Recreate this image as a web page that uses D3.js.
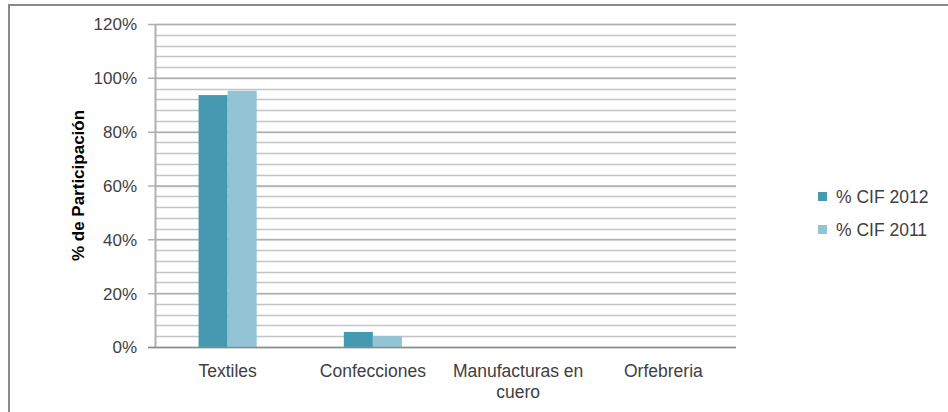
<!DOCTYPE html>
<html>
<head>
<meta charset="utf-8">
<script src="https://cdn.jsdelivr.net/npm/d3@7"></script>
<style>
  html, body { margin: 0; padding: 0; background: #ffffff; }
  svg { display: block; }
  text { font-family: "Liberation Sans", Arial, sans-serif; }
</style>
</head>
<body>
<svg id="chart" width="948" height="412"></svg>
<script>
// ---- data ----
const categories = ["Textiles", "Confecciones", "Manufacturas en cuero", "Orfebreria"];
const seriesNames = ["% CIF 2012", "% CIF 2011"];
const cif2012 = [0.936, 0.056, 0, 0];
const cif2011 = [0.952, 0.041, 0, 0];
const majorTicks = [0, 0.2, 0.4, 0.6, 0.8, 1.0, 1.2];
const minorTicks = d3.range(0, 31).map(i => i * 0.04);
const yTitle = "% de Participación";

// ---- layout ----
const svg = d3.select("#chart");
const plot = { left: 155, right: 736, top: 24, bottom: 347 };
const colors = ["#4599b1", "#93c4d6"];
const seriesValues = [cif2012, cif2011];

// outer border
svg.append("rect")
  .attr("x", 9).attr("y", 5)
  .attr("width", 950).attr("height", 420)
  .attr("fill", "none").attr("stroke", "#8a8a8a").attr("stroke-width", 2);

const y = d3.scaleLinear().domain([0, 1.2]).range([plot.bottom, plot.top]);
const x = d3.scaleBand().domain(categories).range([plot.left, plot.right]).paddingInner(0).paddingOuter(0);
const x1 = d3.scaleBand().domain(seriesNames).range([0, x.bandwidth()]).paddingInner(0).paddingOuter(1.5);

// minor gridlines
svg.append("g").selectAll("line")
  .data(minorTicks.filter(t => t > 0))
  .join("line")
  .attr("x1", plot.left).attr("x2", plot.right)
  .attr("y1", d => Math.round(y(d)) + 0.5).attr("y2", d => Math.round(y(d)) + 0.5)
  .attr("stroke", "#c4c4c4").attr("stroke-width", 1.5);

// major gridlines + ticks (via axis)
const yAxis = d3.axisLeft(y).tickValues(majorTicks)
  .tickFormat(d3.format(".0%"))
  .tickSize(-(plot.right - plot.left)).tickPadding(0);
const gy = svg.append("g").attr("transform", `translate(${plot.left},0)`).call(yAxis);
gy.select(".domain").remove();
gy.selectAll(".tick line")
  .attr("x1", -7)
  .attr("stroke", "#b0b0b0").attr("stroke-width", 1.5);
gy.selectAll(".tick text")
  .attr("x", -18)
  .attr("dy", "0.35em")
  .attr("fill", "#404040")
  .style("font-size", "17px")
  .style("font-family", "'Liberation Sans', Arial, sans-serif");

// y axis line
svg.append("line")
  .attr("x1", plot.left + 0.5).attr("x2", plot.left + 0.5)
  .attr("y1", plot.top).attr("y2", plot.bottom)
  .attr("stroke", "#b0b0b0").attr("stroke-width", 2);

// bars
const groups = svg.append("g").selectAll("g")
  .data(categories)
  .join("g")
  .attr("transform", d => `translate(${x(d)},0)`);
groups.selectAll("rect")
  .data((c, i) => seriesNames.map((s, j) => ({ s, v: seriesValues[j][i], j })))
  .join("rect")
  .attr("x", d => x1(d.s))
  .attr("width", x1.bandwidth())
  .attr("y", d => y(d.v))
  .attr("height", d => y(0) - y(d.v))
  .attr("fill", d => colors[d.j]);

// x axis baseline
svg.append("line")
  .attr("x1", plot.left - 7).attr("x2", plot.right)
  .attr("y1", plot.bottom + 0.5).attr("y2", plot.bottom + 0.5)
  .attr("stroke", "#8c8c8c").attr("stroke-width", 1.5);

// category labels (wrapped)
const xAxis = d3.axisBottom(x).tickSize(0).tickPadding(0);
const gx = svg.append("g").attr("transform", `translate(0,${plot.bottom})`).call(xAxis);
gx.select(".domain").remove();
gx.selectAll(".tick text")
  .attr("fill", "#404040")
  .attr("dy", 0)
  .attr("y", 0)
  .style("font-size", "17.5px")
  .style("font-family", "'Liberation Sans', Arial, sans-serif")
  .each(function(d) {
    const t = d3.select(this);
    const words = d.split(" ");
    t.text(null);
    let lines = [];
    let line = [];
    const probe = t.append("tspan");
    words.forEach(w => {
      line.push(w);
      probe.text(line.join(" "));
      if (probe.node().getComputedTextLength() > x.bandwidth() - 4 && line.length > 1) {
        line.pop();
        lines.push(line.join(" "));
        line = [w];
      }
    });
    lines.push(line.join(" "));
    probe.remove();
    lines.forEach((l, i) => {
      t.append("tspan").attr("x", 0).attr("y", 30 + i * 21).text(l);
    });
  });

// y title
svg.append("text")
  .attr("transform", `translate(84,${(plot.top + plot.bottom) / 2}) rotate(-90)`)
  .attr("text-anchor", "middle")
  .attr("fill", "#000")
  .style("font-size", "17px")
  .style("font-weight", "bold")
  .text(yTitle);

// legend
const legend = svg.append("g").selectAll("g")
  .data(seriesNames)
  .join("g")
  .attr("transform", (d, i) => `translate(818,${197 + i * 33})`);
legend.append("rect")
  .attr("x", 0).attr("y", -5).attr("width", 9).attr("height", 9)
  .attr("fill", (d, i) => colors[i]);
legend.append("text")
  .attr("x", 18).attr("y", 0).attr("dy", "0.35em")
  .attr("fill", "#404040")
  .style("font-size", "17.5px")
  .text(d => d);
</script>
</body>
</html>
